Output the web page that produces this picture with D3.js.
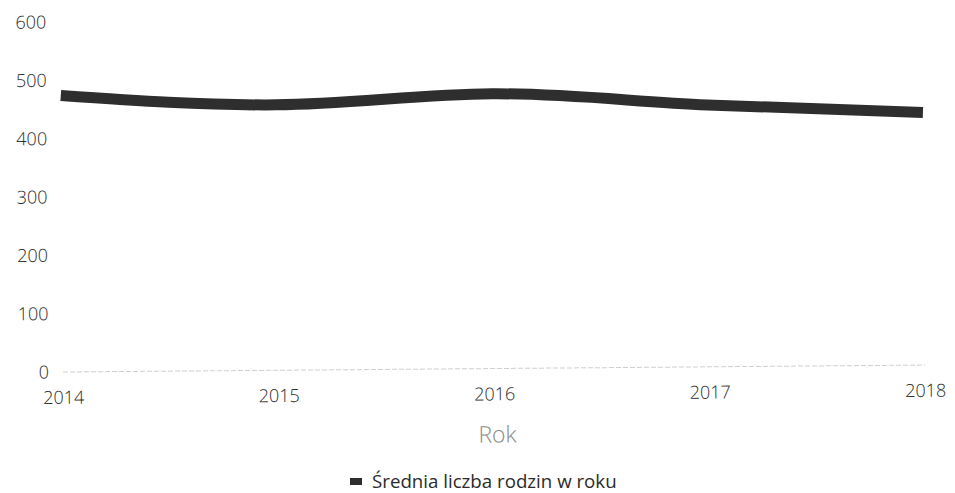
<!DOCTYPE html>
<html>
<head>
<meta charset="utf-8">
<script src="https://cdn.jsdelivr.net/npm/d3@7"></script>
<style>
  html, body { margin: 0; padding: 0; background: #fff; }
  svg { display: block; font-family: "Open Sans", sans-serif; }
</style>
</head>
<body>
<svg id="chart" width="955" height="493"></svg>
<script>
// Average number of families per year
const years = ["2014", "2015", "2016", "2017", "2018"];
const families = [474, 455, 471, 449, 433];
const yTicks = [0, 100, 200, 300, 400, 500, 600];
const seriesName = "Średnia liczba rodzin w roku";
const xTitle = "Rok";

const svg = d3.select("#chart");
const margin = { left: 63, right: 30, top: 22, bottom: 121 };
const W = 955, H = 493;
const textColor = "#2b2b2b";

const x = d3.scalePoint().domain(years).range([margin.left, W - margin.right]);
const y = d3.scaleLinear().domain([0, 600]).range([H - margin.bottom, margin.top]);

// plot area is drawn with a slight tilt around the origin corner
const g = svg.append("g").attr("transform", `rotate(-0.46, ${margin.left}, ${y(0)})`);

// baseline
g.append("line")
  .attr("x1", margin.left).attr("x2", W - margin.right)
  .attr("y1", y(0)).attr("y2", y(0))
  .attr("stroke", "#cfcfcf").attr("stroke-width", 1)
  .attr("stroke-dasharray", "5,2");

// y axis
const yAxis = d3.axisLeft(y).tickValues(yTicks).tickSize(0).tickPadding(14);
const gy = g.append("g").attr("transform", `translate(${margin.left},0)`).call(yAxis);
gy.select(".domain").remove();
gy.selectAll("text").attr("font-size", 18).attr("font-weight", 300).attr("fill", textColor)
  .attr("font-family", "Open Sans, sans-serif");

// x axis
const xAxis = d3.axisBottom(x).tickSize(0).tickPadding(19);
const gx = g.append("g").attr("transform", `translate(0,${y(0)})`).call(xAxis);
gx.select(".domain").remove();
gx.selectAll("text").attr("font-size", 18).attr("font-weight", 300).attr("fill", textColor)
  .attr("font-family", "Open Sans, sans-serif");

// axis title
g.append("text")
  .attr("x", 497)
  .attr("y", 446)
  .attr("text-anchor", "middle")
  .attr("font-size", 23)
  .attr("font-weight", 300)
  .attr("fill", "#8a8a8a")
  .text(xTitle);

// series line
const line = d3.line()
  .x((d, i) => x(years[i]))
  .y(d => y(d))
  .curve(d3.curveMonotoneX);

g.append("path")
  .datum(families)
  .attr("d", line)
  .attr("fill", "none")
  .attr("stroke", "#2e2e2e")
  .attr("stroke-width", 11)
  .attr("stroke-linejoin", "round");

// legend
const legend = svg.append("g").attr("transform", "translate(350,488)");
legend.append("rect")
  .attr("x", 0).attr("y", -10).attr("width", 12).attr("height", 7)
  .attr("fill", "#2e2e2e");
legend.append("text")
  .attr("x", 22).attr("y", 0)
  .attr("font-size", 18.7).attr("font-weight", 400).attr("fill", textColor)
  .text(seriesName);
</script>
</body>
</html>
